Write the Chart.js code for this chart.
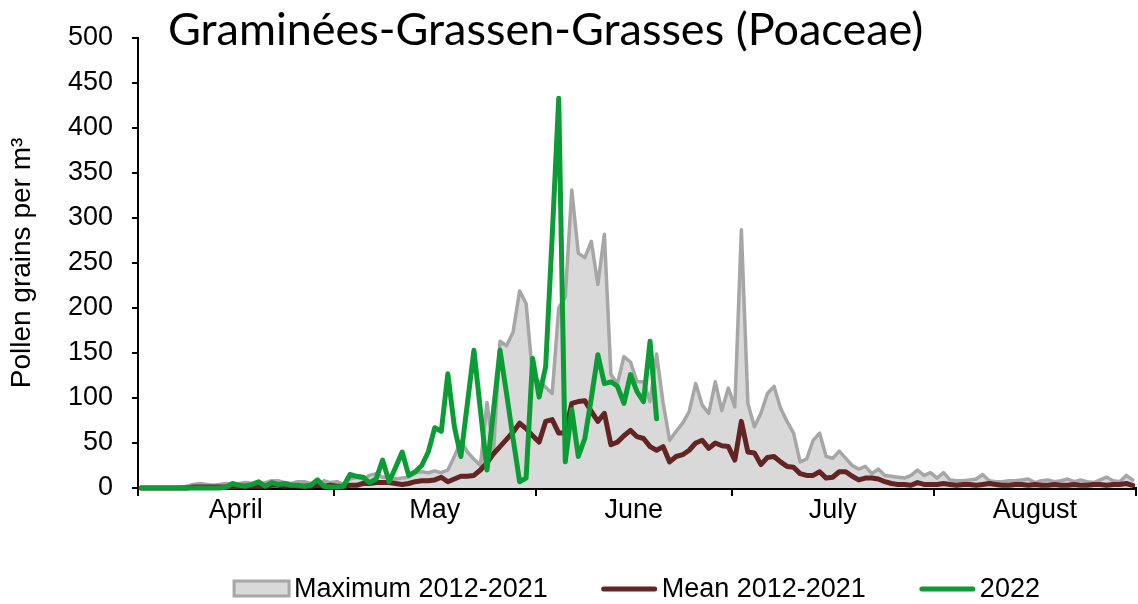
<!DOCTYPE html>
<html>
<head>
<meta charset="utf-8">
<script src="https://cdn.jsdelivr.net/npm/chart.js@4.4.0/dist/chart.umd.min.js"></script>
<style>
  html, body { margin: 0; padding: 0; background: #fff; }
</style>
</head>
<body>
<canvas id="pollenChart" width="1138" height="604"></canvas>
<script>
// --- data (one value per day, 1 April .. 31 August) ---
const monthNames = ['April', 'May', 'June', 'July', 'August'];
const monthDays = [30, 31, 30, 31, 31];
const yTicks = [0, 50, 100, 150, 200, 250, 300, 350, 400, 450, 500];

const maxSeries = [
  // April
  0,0,0,0,0,0,1,2,4,5,4,3,4,5,4,5,6,5,4,6,8,8,6,5,7,7,5,4,8,6,
  // May
  7,4,10,12,10,14,16,12,12,10,11,12,17,18,17,19,17,20,35,52,40,32,25,95,40,163,158,173,219,205,125,
  // June
  118,112,105,200,212,331,261,256,274,226,282,126,116,146,140,118,118,96,149,95,53,63,72,85,116,92,83,118,86,111,
  // July
  90,287,94,68,83,105,113,89,74,61,29,32,53,61,35,33,41,33,25,21,24,16,21,14,13,12,11,14,20,14,17,
  // August
  11,17,9,8,8,9,10,15,8,7,7,8,8,9,10,6,8,9,7,8,10,7,9,7,6,9,12,8,7,14,9
];

const meanSeries = [
  0,0,0,0,0,0,0,0,1,1,1,1,1,1,1,2,2,2,2,2,3,3,2,3,2,2,2,3,2,3,
  2,2,3,3,5,5,6,6,6,5,4,5,7,8,8,9,12,7,10,13,13,14,20,28,38,46,54,62,72,66,58,
  51,74,76,61,61,94,96,97,85,74,83,48,51,58,64,57,55,46,42,46,29,35,37,42,50,53,44,50,47,46,
  31,74,40,39,26,34,35,29,24,23,16,14,14,18,11,12,18,18,13,9,11,11,10,7,5,4,4,3,6,4,4,
  4,5,4,3,4,4,3,4,5,4,3,3,4,4,3,4,3,3,4,3,3,4,3,3,4,4,3,4,4,5,3
];

const series2022 = [
  0,0,0,0,0,0,0,0,0,0,0,0,0,1,5,3,2,4,7,2,6,4,5,3,3,2,3,9,2,1,
  1,2,15,13,12,6,10,31,7,23,40,14,18,25,40,67,63,127,68,35,94,153,86,20,86,153,105,55,7,11,144,
  101,135,280,433,29,87,35,55,100,148,116,118,113,94,126,107,96,163,77
];

// month boundaries and centres on the day axis
const monthEdges = [-0.5];
monthDays.forEach(d => monthEdges.push(monthEdges[monthEdges.length - 1] + d));
const monthMids = monthDays.map((d, i) => monthEdges[i] + d / 2);
const dayMin = monthEdges[0];
const dayMax = monthEdges[monthEdges.length - 1];

const toPoints = arr => arr.map((v, i) => ({ x: i, y: v }));

const FONT = '"Liberation Sans", Arial, sans-serif';

const titlePlugin = {
  id: 'sheetTitle',
  afterDraw(chart) {
    const ctx = chart.ctx;
    ctx.save();
    ctx.font = '45px Lato, "Open Sans", sans-serif';
    ctx.fillStyle = '#000';
    ctx.textBaseline = 'alphabetic';
    ctx.fillText('Graminées-Grassen-Grasses (Poaceae)', 168, 45);
    ctx.restore();
  }
};

// legend drawn under the plot, centred on the plot area
const legendPlugin = {
  id: 'bottomLegend',
  afterDraw(chart) {
    const ctx = chart.ctx;
    const sets = chart.data.datasets;
    const sampleW = 55, textGap = 5, itemGap = 54, y = 589;
    ctx.save();
    ctx.font = '27px ' + FONT;
    const widths = sets.map(d => sampleW + textGap + ctx.measureText(d.label).width);
    const total = widths.reduce((a, b) => a + b, 0) + itemGap * (sets.length - 1);
    let x = (chart.chartArea.left + chart.chartArea.right) / 2 - total / 2;
    sets.forEach((d, i) => {
      if (d.fill) {
        ctx.fillStyle = d.backgroundColor;
        ctx.fillRect(x, y - 8, sampleW, 15);
        ctx.strokeStyle = d.borderColor;
        ctx.lineWidth = 3;
        ctx.strokeRect(x, y - 8, sampleW, 15);
      } else {
        ctx.strokeStyle = d.borderColor;
        ctx.lineWidth = d.borderWidth;
        ctx.lineCap = 'round';
        ctx.beginPath();
        ctx.moveTo(x + 2, y);
        ctx.lineTo(x + sampleW - 2, y);
        ctx.stroke();
      }
      ctx.fillStyle = '#000';
      ctx.textBaseline = 'middle';
      ctx.fillText(d.label, x + sampleW + textGap, y + 1);
      x += widths[i] + itemGap;
    });
    ctx.restore();
  }
};

new Chart(document.getElementById('pollenChart'), {
  type: 'line',
  data: {
    datasets: [
      {
        label: 'Maximum 2012-2021',
        data: toPoints(maxSeries),
        borderColor: '#a6a6a6',
        backgroundColor: '#d9d9d9',
        borderWidth: 3.5,
        fill: 'origin',
        order: 3
      },
      {
        label: 'Mean 2012-2021',
        data: toPoints(meanSeries),
        borderColor: '#632523',
        borderWidth: 5,
        fill: false,
        order: 2
      },
      {
        label: '2022',
        data: toPoints(series2022),
        borderColor: '#0c9c35',
        borderWidth: 5,
        fill: false,
        order: 1
      }
    ]
  },
  options: {
    responsive: false,
    devicePixelRatio: 1,
    animation: false,
    layout: { padding: { top: 38, right: 2, left: 0, bottom: 0 } },
    elements: {
      point: { radius: 0, hoverRadius: 0 },
      line: { tension: 0, borderJoinStyle: 'round', borderCapStyle: 'round' }
    },
    datasets: { line: { clip: false } },
    plugins: {
      legend: { display: false },
      tooltip: { enabled: false },
      title: { display: false }
    },
    scales: {
      x: {
        type: 'linear',
        position: 'bottom',
        weight: 0,
        min: dayMin,
        max: dayMax,
        afterBuildTicks: s => { s.ticks = monthEdges.map(v => ({ value: v })); },
        ticks: { display: false },
        grid: { drawOnChartArea: false, drawTicks: true, tickLength: 8, color: '#000', lineWidth: 2 },
        border: { color: '#000', width: 3 },
        afterFit: s => { s.height = 8; }
      },
      xMonths: {
        type: 'linear',
        position: 'bottom',
        weight: 1,
        min: dayMin,
        max: dayMax,
        afterBuildTicks: s => { s.ticks = monthMids.map(v => ({ value: v })); },
        ticks: {
          autoSkip: false,
          maxRotation: 0,
          padding: -2,
          color: '#000',
          font: { family: FONT, size: 27 },
          callback: (v, i) => monthNames[i]
        },
        grid: { display: false, drawTicks: false },
        border: { display: false },
        afterFit: s => { s.height = 108; }
      },
      y: {
        min: 0,
        max: 500,
        afterBuildTicks: s => { s.ticks = yTicks.map(v => ({ value: v })); },
        ticks: { color: '#000', padding: 19, font: { family: FONT, size: 27 } },
        grid: { drawOnChartArea: false, drawTicks: true, tickLength: 6, color: '#000', lineWidth: 2 },
        border: { color: '#000', width: 2 },
        title: {
          display: true,
          text: 'Pollen grains per m³',
          color: '#000',
          font: { family: FONT, size: 28 },
          padding: { top: 5, bottom: 0 }
        },
        afterFit: s => { s.width = 138; }
      }
    }
  },
  plugins: [titlePlugin, legendPlugin]
});
</script>
</body>
</html>
